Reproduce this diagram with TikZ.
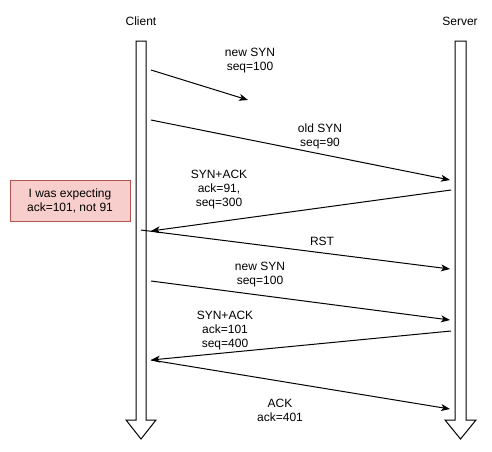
\documentclass[tikz,border=0pt]{standalone}
\usepackage{fontspec}
\setmainfont{Liberation Sans}
\usepackage{xcolor}
\usetikzlibrary{arrows.meta, positioning}
\definecolor{notefill}{RGB}{248,206,204}
\definecolor{noteline}{RGB}{184,84,80}
\tikzset{
    lifeline/.style={draw=black, line width=1pt, fill=white, line join=miter},
    msg/.style={-{Stealth[length=9pt, width=7pt, inset=2.5pt]}, line width=1pt},
    label/.style={align=center, inner sep=0pt, font=\fontsize{12}{14}\selectfont},
    note/.style={rectangle, draw=noteline, fill=notefill, line width=1pt, minimum width=120pt, minimum height=41pt, align=center, font=\fontsize{12}{14}\selectfont}
}
\begin{document}
\begin{tikzpicture}[x=1pt, y=-1pt]
    \useasboundingbox (0,0) rectangle (492,451);

    % Lifelines
    \draw[lifeline] (136,41) -- (146,41) -- (146,420) -- (156,420) -- (141,439) -- (126,420) -- (136,420) -- cycle;
    \draw[lifeline] (455,41) -- (466,41) -- (466,420) -- (476,420) -- (460.5,439) -- (445,420) -- (455,420) -- cycle;
    \node[label] (client) at (141,21) {Client};
    \node[label] (server) at (460,21) {Server};

    % Message end points
    \coordinate (c1) at (151,70);   \coordinate (x1) at (248,100);
    \coordinate (c2) at (151,120);  \coordinate (s2) at (450,180);
    \coordinate (s3) at (451,190);  \coordinate (c3) at (151,231);
    \coordinate (c4) at (141,230);  \coordinate (s4) at (450,269);
    \coordinate (c5) at (151,281);  \coordinate (s5) at (450,320);
    \coordinate (s6) at (451,331);  \coordinate (c6) at (151,360);
    \coordinate (c7) at (151,360);  \coordinate (s7) at (450,409);

    % Messages
    \draw[msg] (c1) -- (x1);
    \draw[msg] (c2) -- (s2);
    \draw[msg] (s3) -- (c3);
    \draw[msg] (c4) -- (s4);
    \draw[msg] (c5) -- (s5);
    \draw[msg] (s6) -- (c6);
    \draw[msg] (c7) -- (s7);

    % Labels
    \node[label] (lab1) at (250,61) {new SYN\\seq=100};
    \node[label] (lab2) at (320,136) {old SYN\\seq=90};
    \node[label] (lab3) at (219,190) {SYN+ACK\\ack=91,\\seq=300};
    \node[label] (lab4) at (322,241) {RST};
    \node[label] (lab5) at (260,275) {new SYN\\seq=100};
    \node[label] (lab6) at (225,331) {SYN+ACK\\ack=101\\seq=400};
    \node[label] (lab7) at (280,410) {ACK\\ack=401};

    % Note
    \node[note] (expect) at (70,200.5) {I was expecting\\ack=101, not 91};
\end{tikzpicture}
\end{document}
